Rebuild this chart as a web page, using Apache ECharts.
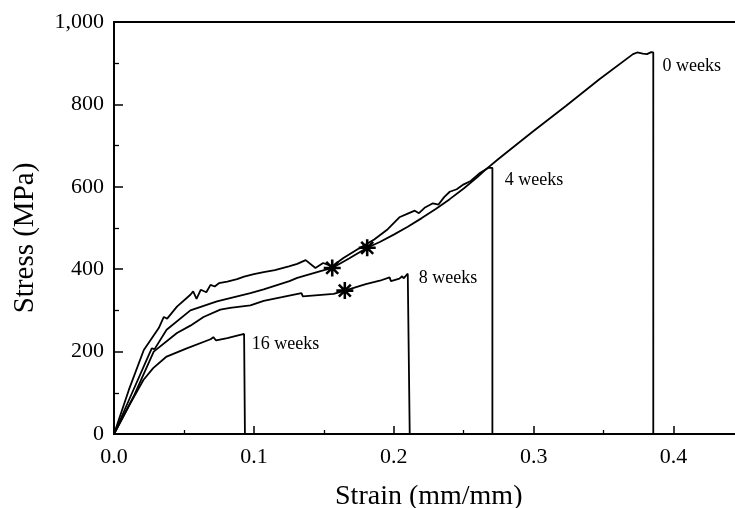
<!DOCTYPE html>
<html>
<head>
<meta charset="utf-8">
<script src="https://cdn.jsdelivr.net/npm/echarts@6/dist/echarts.min.js"></script>
<style>
html,body{margin:0;padding:0;background:#fff;}
#c{width:735px;height:508px;}
</style>
</head>
<body>
<div id="c"></div>
<script>
// ---- data (strain mm/mm, stress MPa) ----
const weeks0 = [[0,0],[0.0118,91],[0.0249,192],[0.027,208],[0.029,206],[0.0376,253],[0.0546,300],[0.0736,322],[0.083,330],[0.0975,342],[0.107,351],[0.1254,371],[0.131,379],[0.1495,397],[0.156,403],[0.168,426],[0.181,452],[0.19,466],[0.2,484],[0.21,503],[0.22,524],[0.23,546],[0.24,570],[0.25,596],[0.26,624],[0.265,640],[0.275,668],[0.299,733],[0.323,796],[0.347,861],[0.371,922],[0.374,926],[0.378,923],[0.381,922],[0.384,927],[0.3855,926],[0.3855,0]];
const weeks4 = [[0,0],[0.0106,107],[0.0213,204],[0.032,257],[0.0356,284],[0.038,280],[0.045,309],[0.0546,338],[0.0566,346],[0.059,328],[0.062,350],[0.066,344],[0.069,362],[0.072,358],[0.075,366],[0.081,370],[0.088,376],[0.093,382],[0.1,388],[0.107,393],[0.115,398],[0.125,407],[0.131,413],[0.137,422],[0.144,403],[0.1495,415],[0.156,407],[0.164,427],[0.175,450],[0.186,472],[0.195,495],[0.204,526],[0.21,535],[0.215,542],[0.218,536],[0.222,549],[0.228,560],[0.232,557],[0.236,575],[0.24,588],[0.245,594],[0.25,606],[0.255,614],[0.261,632],[0.2676,646],[0.269,642],[0.2705,646],[0.2705,0]];
const weeks8 = [[0,0],[0.014,91],[0.0284,200],[0.045,245],[0.0546,263],[0.064,284],[0.076,302],[0.083,306],[0.0975,312],[0.107,323],[0.12,332],[0.134,342],[0.135,334],[0.157,340],[0.165,348],[0.18,364],[0.19,372],[0.197,380],[0.198,371],[0.204,377],[0.206,383],[0.207,378],[0.21,389],[0.2114,389],[0.2114,0]];
const weeks16 = [[0,0],[0.0118,75],[0.021,131],[0.028,160],[0.0376,188],[0.052,208],[0.069,230],[0.071,235],[0.073,227],[0.081,233],[0.093,243],[0.0936,243],[0.0936,0]];
const starPoints = [[0.156,403],[0.181,452],[0.165,348]];
const labelTexts = ['0 weeks','4 weeks','8 weeks','16 weeks'];
const labelX = [0.3918,0.2789,0.2175,0.0982];
const labelY = [892,616,379,218];
const xTicks = [0.0,0.1,0.2,0.3,0.4];
const yTicks = [0,200,400,600,800,1000];

const FONT = "'Liberation Serif','Times New Roman',serif";
const chart = echarts.init(document.getElementById('c'), null, {renderer:'canvas'});
const starPath = 'path://M-1.5,-10L1.5,-10L1.5,10L-1.5,10Z M-10,-1.5L10,-1.5L10,1.5L-10,1.5Z M-6.0,-8.1L8.1,6.0L6.0,8.1L-8.1,-6.0Z M-8.1,6.0L6.0,-8.1L8.1,-6.0L-6.0,8.1Z';

function lineSeries(d){
  return {type:'line', data:d, showSymbol:false, symbol:'none', smooth:false,
    lineStyle:{color:'#000', width:1.8}, itemStyle:{color:'#000'}, z:3, silent:true};
}

chart.setOption({
  animation:false,
  backgroundColor:'#fff',
  grid:{left:114, right:-8.5, top:22, bottom:74, show:true, borderColor:'#000', borderWidth:1.8,
    outerBoundsMode:'none', containLabel:false},
  xAxis:{type:'value', min:0, max:0.45, interval:0.1, minorTick:{show:true, splitNumber:2, length:4, lineStyle:{color:'#000', width:1.3}},
    axisLine:{show:true, onZero:false, lineStyle:{color:'#000', width:1.8}},
    axisTick:{show:true, inside:true, length:8, lineStyle:{color:'#000', width:1.5}},
    splitLine:{show:false},
    axisLabel:{color:'#000', fontFamily:FONT, fontSize:22, margin:12,
      formatter:function(v){ return xTicks.some(t=>Math.abs(t-v)<1e-9) ? v.toFixed(1) : ''; }},
    name:'Strain (mm/mm)', nameLocation:'middle', nameGap:49,
    nameTextStyle:{color:'#000', fontFamily:FONT, fontSize:28}},
  yAxis:{type:'value', min:0, max:1000, interval:200, minorTick:{show:true, splitNumber:2, length:5, lineStyle:{color:'#000', width:1.3}},
    axisLine:{show:true, onZero:false, lineStyle:{color:'#000', width:1.8}},
    axisTick:{show:true, inside:true, length:9, lineStyle:{color:'#000', width:1.5}},
    splitLine:{show:false},
    axisLabel:{color:'#000', fontFamily:FONT, fontSize:22, margin:10,
      formatter:function(v){ return yTicks.indexOf(v)>=0 ? v.toLocaleString('en-US') : ''; }},
    name:'Stress (MPa)', nameLocation:'middle', nameGap:74,
    nameTextStyle:{color:'#000', fontFamily:FONT, fontSize:29, padding:[0,20,0,0]}},
  series:[
    lineSeries(weeks0), lineSeries(weeks4), lineSeries(weeks8), lineSeries(weeks16),
    {type:'scatter', data:starPoints, symbol:starPath, symbolSize:17, itemStyle:{color:'#000', opacity:1}, z:5, silent:true},
    {type:'scatter', symbolSize:1, itemStyle:{opacity:0}, silent:true, z:6,
      data: labelTexts.map((t,i)=>({name:t, value:[labelX[i], labelY[i]]})),
      label:{show:true, position:'right', distance:0, formatter:'{b}', color:'#000', opacity:1, fontFamily:FONT, fontSize:18}}
  ]
});
</script>
</body>
</html>
